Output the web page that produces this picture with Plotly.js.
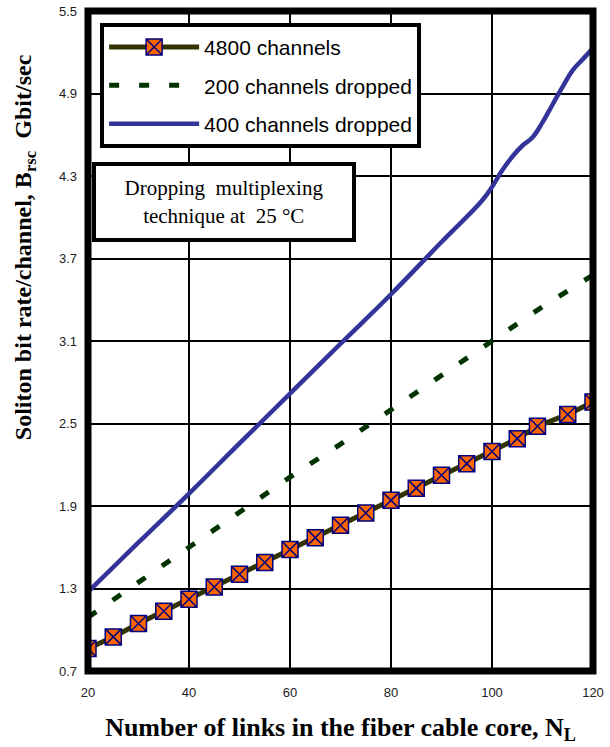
<!DOCTYPE html>
<html>
<head>
<meta charset="utf-8">
<script src="https://cdn.plot.ly/plotly-3.0.1.min.js"></script>
<style>html,body{margin:0;padding:0;background:#fff;}#chart{width:610px;height:747px;}</style>
</head>
<body>
<div id="chart"></div>
<script>
// ---- data ----
const xTicks = [20, 40, 60, 80, 100, 120];
const yTicks = [0.7, 1.3, 1.9, 2.5, 3.1, 3.7, 4.3, 4.9, 5.5];

const chX = [20,25,30,35,40,45,50,55,60,65,70,75,80,85,90,95,100,105,109,115,120];
const chY = [0.864,0.948,1.045,1.135,1.222,1.311,1.403,1.489,1.583,1.670,1.760,1.849,1.941,2.030,2.123,2.208,2.297,2.390,2.480,2.566,2.656];

const d200X = [20,30,40,50,60,70,80,90,100,110,120];
const d200Y = [1.09,1.345,1.60,1.855,2.11,2.35,2.595,2.85,3.10,3.35,3.58];

const d400X = [20,30,40,50,60,70,80,90,98,100,102,104,106,108,110,112,114,116,118,120];
const d400Y = [1.275,1.635,1.99,2.355,2.717,3.08,3.44,3.82,4.12,4.22,4.34,4.44,4.52,4.58,4.69,4.82,4.95,5.07,5.15,5.23];

const names = ['4800 channels', '200 channels dropped', '400 channels dropped'];
const yTitle = 'Soliton bit rate/channel, B<sub>rsc</sub>  Gbit/sec';
const xTitle = 'Number of links in the fiber cable core, N<sub>L</sub>';
const noteText = 'Dropping  multiplexing<br>technique at  25 °C';

const traces = [
  {x: chX, y: chY, name: names[0], type: 'scatter', mode: 'lines+markers', legendgroup: 'a',
   line: {color: '#333300', width: 5},
   marker: {symbol: 'square-x', size: 16, color: '#ff6600', line: {color: '#000080', width: 1.5}}},
  {x: d200X, y: d200Y, name: names[1], type: 'scatter', mode: 'lines', legendgroup: 'b',
   line: {color: '#003300', width: 5, dash: '10px,20px'}},
  {x: d400X, y: d400Y, name: names[2], type: 'scatter', mode: 'lines', legendgroup: 'c',
   line: {color: '#333399', width: 4.5, shape: 'spline', smoothing: 1.2}}
];

const layout = {
  width: 610, height: 747,
  margin: {l: 88, r: 17, t: 11, b: 76},
  paper_bgcolor: '#ffffff', plot_bgcolor: '#ffffff',
  showlegend: true,
  legend: {
    x: 0.024, y: 0.982, xanchor: 'left', yanchor: 'top',
    bgcolor: '#ffffff', bordercolor: '#000000', borderwidth: 4,
    font: {family: 'Liberation Sans, Arial, sans-serif', size: 21, color: '#000000'},
    itemwidth: 90, traceorder: 'grouped', tracegroupgap: 8
  },
  xaxis: {
    range: [20, 120], tickvals: xTicks, ticktext: xTicks.map(String),
    showgrid: true, gridcolor: '#000000', gridwidth: 2,
    zeroline: false, showline: false, ticks: '', ticklabelstandoff: 12,
    tickfont: {family: 'Liberation Sans, Arial, sans-serif', size: 13, color: '#222222'},
    title: {text: xTitle, standoff: 18,
            font: {family: 'Liberation Serif, Times New Roman, serif', size: 26, color: '#000000', weight: 'bold'}}
  },
  yaxis: {
    range: [0.7, 5.5], tickvals: yTicks, ticktext: yTicks.map(v => v.toFixed(1)),
    showgrid: true, gridcolor: '#000000', gridwidth: 2,
    zeroline: false, showline: false, ticks: '', ticklabelstandoff: 10,
    tickfont: {family: 'Liberation Sans, Arial, sans-serif', size: 13, color: '#222222'}
  },
  shapes: [
    {type: 'rect', xref: 'paper', yref: 'paper', x0: 0, x1: 1, y0: 0, y1: 1,
     line: {color: '#000000', width: 7}, layer: 'above'}
  ],
  annotations: [
    {text: noteText, xref: 'paper', yref: 'paper', x: 0.27, y: 0.71, xanchor: 'center', yanchor: 'middle',
     showarrow: false, align: 'center', width: 256, height: 72,
     bgcolor: '#ffffff', bordercolor: '#000000', borderwidth: 4, borderpad: 0,
     font: {family: 'Liberation Serif, Times New Roman, serif', size: 21, color: '#000000'}},
    {text: yTitle, xref: 'paper', yref: 'paper', x: -0.125, y: 0.642, xanchor: 'center', yanchor: 'middle',
     textangle: -90, showarrow: false,
     font: {family: 'Liberation Serif, Times New Roman, serif', size: 24, color: '#000000', weight: 'bold'}}
  ]
};

Plotly.newPlot('chart', traces, layout, {staticPlot: true, displayModeBar: false});
</script>
</body>
</html>
